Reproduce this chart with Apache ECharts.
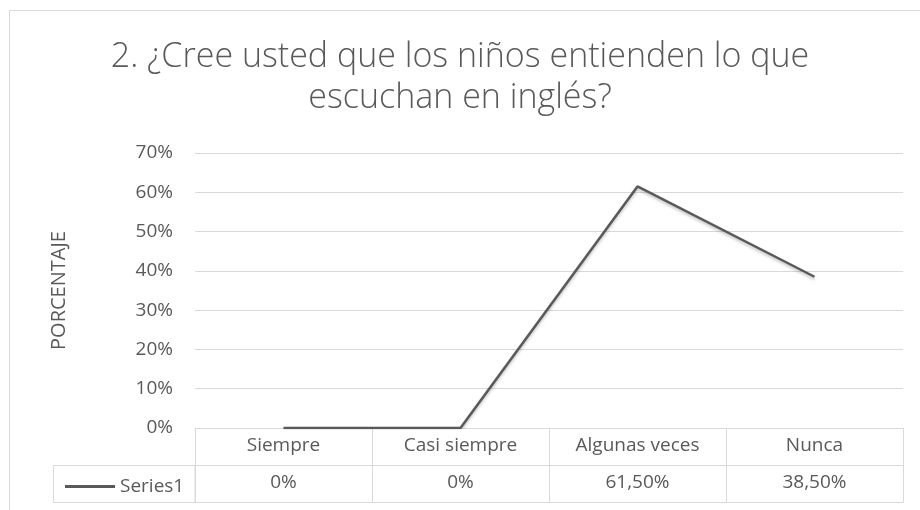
<!DOCTYPE html>
<html>
<head>
<meta charset="utf-8">
<script src="https://cdn.jsdelivr.net/npm/echarts@6/dist/echarts.min.js"></script>
<style>
  html, body { margin: 0; padding: 0; background: #fff; }
  #chart { width: 920px; height: 510px; }
</style>
</head>
<body>
<div id="chart"></div>
<script>
// datos
const titleText = '2. ¿Cree usted que los niños entienden lo que\nescuchan en inglés?';
const categories = ['Siempre', 'Casi siempre', 'Algunas veces', 'Nunca'];
const seriesName = 'Series1';
const values = [0, 0, 0.615, 0.385];
const yTicks = [0, 0.1, 0.2, 0.3, 0.4, 0.5, 0.6, 0.7];

const textColor = '#595959';
const gridColor = '#d9d9d9';
const font = '"Open Sans", "Noto Sans", sans-serif';

// formato de la tabla de datos (coma decimal)
const fmtTable = v => v === 0 ? '0%' : (v * 100).toFixed(2).replace('.', ',') + '%';
const tableLabels = values.map(fmtTable);

const chart = echarts.init(document.getElementById('chart'), null, { renderer: 'canvas' });

const labelStyle = { color: textColor, fontFamily: font, fontSize: 19 };

chart.setOption({
    backgroundColor: '#fff',
    animation: false,
    title: {
        text: titleText,
        left: 'center',
        top: 32,
        textStyle: {
            color: textColor,
            fontFamily: font,
            fontWeight: 300,
            fontSize: 34,
            lineHeight: 41
        }
    },
    legend: {
        data: [{ name: seriesName, icon: 'rect' }],
        left: 60,
        top: 472,
        itemWidth: 50,
        itemHeight: 3,
        textStyle: labelStyle
    },
    grid: { left: 195, right: 17, top: 153, bottom: 82, containLabel: false },
    xAxis: [
        {
            type: 'category',
            data: categories,
            boundaryGap: true,
            position: 'bottom',
            axisLine: { show: true, lineStyle: { color: gridColor } },
            axisTick: { show: true, length: 74, interval: 0, lineStyle: { color: gridColor } },
            axisLabel: Object.assign({ interval: 0, margin: 8 }, labelStyle)
        },
        {
            type: 'category',
            data: tableLabels,
            boundaryGap: true,
            position: 'bottom',
            offset: 37,
            axisLine: { show: true, lineStyle: { color: gridColor } },
            axisTick: { show: false },
            axisLabel: Object.assign({ interval: 0, margin: 8 }, labelStyle)
        },
        {
            type: 'category',
            data: categories,
            position: 'bottom',
            offset: 74,
            axisLine: { show: true, lineStyle: { color: gridColor } },
            axisTick: { show: false },
            axisLabel: { show: false }
        }
    ],
    yAxis: {
        type: 'value',
        min: yTicks[0],
        max: yTicks[yTicks.length - 1],
        interval: 0.1,
        name: 'PORCENTAJE',
        nameLocation: 'middle',
        nameRotate: 90,
        nameGap: 126,
        nameTextStyle: { color: textColor, fontFamily: font, fontSize: 20 },
        axisLine: { show: false },
        axisTick: { show: false },
        axisLabel: Object.assign({
            margin: 22,
            formatter: v => Math.round(v * 100) + '%'
        }, labelStyle),
        splitLine: { lineStyle: { color: gridColor, width: 1 } }
    },
    graphic: [
        {
            type: 'rect',
            left: 7, top: 8,
            shape: { width: 940, height: 540 },
            style: { fill: 'none', stroke: gridColor, lineWidth: 1 },
            silent: true,
            z: -1
        },
        {
            type: 'rect',
            shape: { x: 53.5, y: 465.5, width: 141.5, height: 37 },
            style: { fill: 'none', stroke: gridColor, lineWidth: 1 },
            silent: true
        }
    ],
    series: [
        {
            name: seriesName,
            type: 'line',
            data: values,
            xAxisIndex: 0,
            symbol: 'none',
            lineStyle: {
                color: textColor,
                width: 2.5,
                shadowColor: 'rgba(0,0,0,0.25)',
                shadowBlur: 3,
                shadowOffsetY: 2
            },
            itemStyle: { color: textColor }
        }
    ]
});
</script>
</body>
</html>
